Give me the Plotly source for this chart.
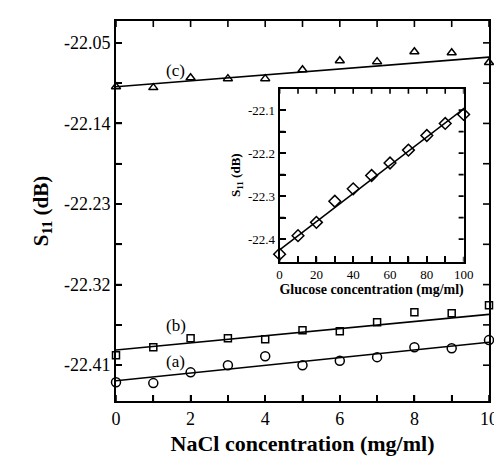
import plotly.graph_objects as go

# Main plot data (NaCl concentration, mg/ml)
nacl = [0, 1, 2, 3, 4, 5, 6, 7, 8, 9, 10]
s11_a = [-22.429, -22.430, -22.418, -22.410, -22.400, -22.410, -22.405, -22.401, -22.390, -22.391, -22.382]
s11_b = [-22.399, -22.390, -22.380, -22.380, -22.381, -22.371, -22.372, -22.362, -22.351, -22.352, -22.343]
s11_c = [-22.099, -22.100, -22.089, -22.090, -22.090, -22.080, -22.070, -22.071, -22.060, -22.061, -22.072]
fit_x = [0, 10]
fit_a = [-22.4274, -22.3844]
fit_b = [-22.393, -22.3533]
fit_c = [-22.099, -22.066]
main_xticks = [0, 1, 2, 3, 4, 5, 6, 7, 8, 9, 10]
main_xlabels = ["0", "", "2", "", "4", "", "6", "", "8", "", "10"]
main_yticks = [-22.05, -22.095, -22.14, -22.185, -22.23, -22.275, -22.32, -22.365, -22.41]
main_ylabels = ["-22.05", "", "-22.14", "", "-22.23", "", "-22.32", "", "-22.41"]

# Inset data (glucose concentration, mg/ml)
glucose = [0, 10, 20, 30, 40, 50, 60, 70, 80, 90, 100]
s11_g = [-22.435, -22.392, -22.361, -22.312, -22.283, -22.252, -22.223, -22.193, -22.159, -22.131, -22.110]
fit_gx = [0, 100]
fit_g = [-22.425, -22.097]
inset_xticks = [0, 10, 20, 30, 40, 50, 60, 70, 80, 90, 100]
inset_xlabels = ["0", "", "20", "", "40", "", "60", "", "80", "", "100"]
inset_yticks = [-22.1, -22.15, -22.2, -22.25, -22.3, -22.35, -22.4]
inset_ylabels = ["-22.1", "", "-22.2", "", "-22.3", "", "-22.4"]

FONT = "Liberation Serif"
BLACK = "black"

fig = go.Figure()

def add_series(x, y, symbol, xa="x", ya="y", size=8):
    fig.add_trace(go.Scatter(x=x, y=y, mode="markers", xaxis=xa, yaxis=ya,
                             marker=dict(symbol=symbol, size=size, color=BLACK,
                                         line=dict(color=BLACK, width=1.5)),
                             showlegend=False, cliponaxis=False))

def add_line(x, y, xa="x", ya="y"):
    fig.add_trace(go.Scatter(x=x, y=y, mode="lines", xaxis=xa, yaxis=ya,
                             line=dict(color=BLACK, width=1.6), showlegend=False))

add_line(fit_x, fit_a)
add_line(fit_x, fit_b)
add_line(fit_x, fit_c)
add_series(nacl, s11_a, "circle-open", size=9)
add_series(nacl, s11_b, "square-open", size=7)
add_series(nacl, s11_c, "triangle-up-open", size=8)

add_line(fit_gx, fit_g, "x2", "y2")
add_series(glucose, s11_g, "diamond-open", "x2", "y2", size=9)

# Inside tick marks on all four sides, placed through the axes' own scales
def tick_shapes(xvals, yvals, xa, ya, length):
    shapes = []
    for v in xvals:
        for anchor, sign in ((0, 1), (1, -1)):
            shapes.append(dict(type="line", xref=xa, yref=ya + " domain", x0=v, x1=v,
                               ysizemode="pixel", yanchor=anchor, y0=0, y1=sign * length,
                               line=dict(color=BLACK, width=1.6), layer="above"))
    for v in yvals:
        for anchor, sign in ((0, 1), (1, -1)):
            shapes.append(dict(type="line", yref=ya, xref=xa + " domain", y0=v, y1=v,
                               xsizemode="pixel", xanchor=anchor, x0=0, x1=sign * length,
                               line=dict(color=BLACK, width=1.6), layer="above"))
    return shapes

shapes = tick_shapes(main_xticks, main_yticks, "x", "y", 6) + \
         tick_shapes(inset_xticks, inset_yticks, "x2", "y2", 5)

fig.update_layout(
    width=502, height=456,
    margin=dict(l=108, r=11, t=11, b=63),
    plot_bgcolor="white", paper_bgcolor="white",
    font=dict(family=FONT, color=BLACK, size=18),
    shapes=shapes,
    xaxis=dict(range=[0, 10], tickmode="array", tickvals=main_xticks, ticktext=main_xlabels,
               tickfont=dict(size=18),
               title=dict(text="<b>NaCl concentration (mg/ml)</b>", font=dict(size=22), standoff=8)),
    yaxis=dict(range=[-22.45, -22.0256], tickmode="array", tickvals=main_yticks, ticktext=main_ylabels,
               tickfont=dict(size=18),
               title=dict(text="<b>S<sub>11</sub> (dB)</b>", font=dict(size=21), standoff=10)),
    xaxis2=dict(domain=[0.4386, 0.932], anchor="y2", range=[0, 100],
                tickmode="array", tickvals=inset_xticks, ticktext=inset_xlabels,
                tickfont=dict(size=13),
                title=dict(text="<b>Glucose concentration (mg/ml)</b>", font=dict(size=14), standoff=2)),
    yaxis2=dict(domain=[0.3665, 0.822], anchor="x2", range=[-22.4526, -22.05],
                tickmode="array", tickvals=inset_yticks, ticktext=inset_ylabels,
                tickfont=dict(size=13),
                title=dict(text="<b>S<sub>11</sub> (dB)</b>", font=dict(size=13), standoff=4)),
    annotations=[
        dict(x=1.6, y=-22.081, xref="x", yref="y", text="(c)", showarrow=False, font=dict(size=17)),
        dict(x=1.6, y=-22.366, xref="x", yref="y", text="(b)", showarrow=False, font=dict(size=17)),
        dict(x=1.6, y=-22.406, xref="x", yref="y", text="(a)", showarrow=False, font=dict(size=17)),
    ],
)

fig.update_xaxes(showline=True, linecolor=BLACK, linewidth=2, mirror=True,
                 ticks="inside", ticklen=6, tickwidth=2, tickcolor=BLACK,
                 showgrid=False, zeroline=False)
fig.update_yaxes(showline=True, linecolor=BLACK, linewidth=2, mirror=True,
                 ticks="inside", ticklen=6, tickwidth=2, tickcolor=BLACK,
                 showgrid=False, zeroline=False)

fig.write_html("out.html")
